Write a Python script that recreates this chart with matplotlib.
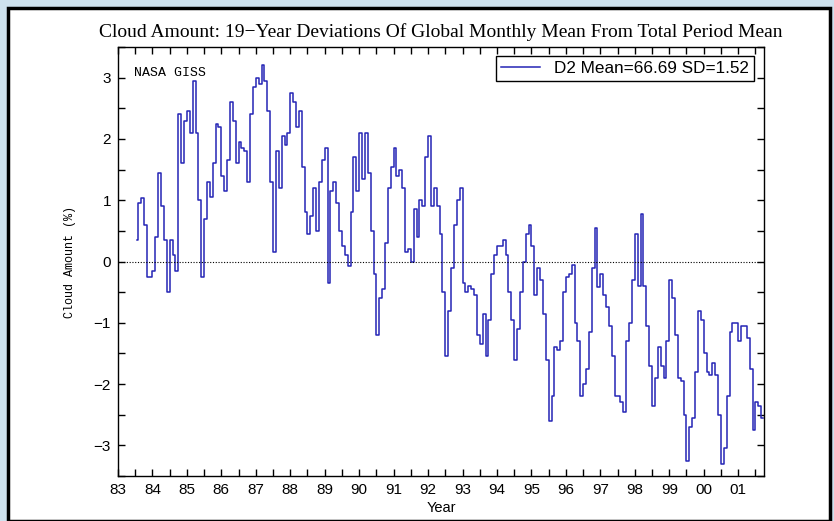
import numpy as np
import matplotlib.pyplot as plt
from matplotlib.patches import Rectangle
from matplotlib.ticker import MultipleLocator

# ISCCP D2 global monthly cloud amount deviations (%), Jul 1983 - Sep 2001
start_year = 83
start_month = 7
dev_1983 = [0.35, 0.95, 1.03, 0.6, -0.25, -0.25]
dev_1984 = [-0.15, 0.4, 1.45, 0.9, 0.35, -0.5, 0.35, 0.1, -0.15, 2.4, 1.6, 2.3]
dev_1985 = [2.45, 2.1, 2.95, 2.1, 1.0, -0.25, 0.7, 1.3, 1.05, 1.6, 2.25, 2.2]
dev_1986 = [1.4, 1.15, 1.65, 2.6, 2.3, 1.6, 1.95, 1.85, 1.8, 1.3, 2.4, 2.85]
dev_1987 = [3.0, 2.9, 3.2, 2.95, 2.45, 1.3, 0.15, 1.8, 1.2, 2.05, 1.9, 2.1]
dev_1988 = [2.75, 2.6, 2.2, 2.45, 1.55, 0.8, 0.45, 0.75, 1.2, 0.5, 1.3, 1.65]
dev_1989 = [1.85, -0.35, 1.15, 1.3, 0.95, 0.5, 0.25, 0.1, -0.07, 0.8, 1.7, 1.15]
dev_1990 = [2.1, 1.35, 2.1, 1.45, 0.5, -0.2, -1.2, -0.6, -0.45, 0.3, 1.2, 1.55]
dev_1991 = [1.85, 1.4, 1.5, 1.2, 0.15, 0.2, 0.0, 0.85, 0.4, 1.0, 0.9, 1.7]
dev_1992 = [2.05, 0.9, 1.2, 0.9, 0.45, -0.5, -1.55, -0.8, -0.1, 0.6, 1.0, 1.2]
dev_1993 = [-0.35, -0.5, -0.4, -0.45, -0.55, -1.2, -1.35, -0.85, -1.55, -0.95, -0.2, 0.1]
dev_1994 = [0.25, 0.25, 0.35, 0.1, -0.5, -0.95, -1.6, -1.1, -0.5, 0.0, 0.45, 0.6]
dev_1995 = [0.25, -0.55, -0.1, -0.3, -0.85, -1.6, -2.6, -2.2, -1.4, -1.45, -1.3, -0.5]
dev_1996 = [-0.25, -0.2, -0.05, -1.0, -1.3, -2.2, -2.0, -1.75, -1.15, -0.1, 0.55, -0.42]
dev_1997 = [-0.2, -0.55, -0.75, -1.05, -1.55, -2.2, -2.2, -2.3, -2.45, -1.3, -1.0, -0.3]
dev_1998 = [0.45, -0.4, 0.78, -0.4, -1.05, -1.7, -2.35, -1.9, -1.4, -1.7, -1.9, -1.3]
dev_1999 = [-0.3, -0.6, -1.2, -1.9, -1.95, -2.5, -3.25, -2.7, -2.55, -1.8, -0.8, -0.95]
dev_2000 = [-1.5, -1.8, -1.85, -1.65, -1.85, -2.5, -3.3, -3.05, -2.2, -1.15, -1.0, -1.0]
dev_2001 = [-1.3, -1.05, -1.05, -1.25, -1.75, -2.75, -2.3, -2.35, -2.55]

year_labels = ['83', '84', '85', '86', '87', '88', '89', '90', '91', '92',
               '93', '94', '95', '96', '97', '98', '99', '00', '01']
legend_label = 'D2 Mean=66.69 SD=1.52'

dev = np.array(dev_1983 + dev_1984 + dev_1985 + dev_1986 + dev_1987 + dev_1988
               + dev_1989 + dev_1990 + dev_1991 + dev_1992 + dev_1993 + dev_1994
               + dev_1995 + dev_1996 + dev_1997 + dev_1998 + dev_1999 + dev_2000
               + dev_2001)
# mid-month positions in years
t = start_year + (start_month - 1 + np.arange(len(dev)) + 0.5) / 12.0

fig = plt.figure(figsize=(8.34, 5.21), dpi=100, facecolor='#cfe2ef')

# white slide panel with black frame, kept behind the axes
panel = Rectangle((8 / 834, 0), 822 / 834, 513 / 521, transform=fig.transFigure,
                  facecolor='white', edgecolor='black', linewidth=2.5, zorder=-10)
fig.patches.append(panel)

ax = fig.add_axes([118 / 834, 45 / 521, 646 / 834, 429 / 521])
ax.set_zorder(5)
ax.plot(t, dev, color='#2525b5', linewidth=1.1, drawstyle='steps-mid',
        label=legend_label)
ax.axhline(0, color='black', linestyle=(0, (1, 1.5)), linewidth=0.8)

ax.set_xlim(start_year, start_year + (start_month - 1 + len(dev)) / 12.0)
ax.set_ylim(-3.5, 3.5)

ax.set_xticks(np.arange(83, 83 + len(year_labels)))
ax.set_xticklabels(year_labels)
ax.xaxis.set_minor_locator(MultipleLocator(0.5))
ax.yaxis.set_major_locator(MultipleLocator(1))
ax.yaxis.set_minor_locator(MultipleLocator(0.5))

ax.tick_params(which='both', direction='in', top=True, right=True,
               length=5, width=1.0, labelsize=11, pad=5)
for lab in ax.get_xticklabels() + ax.get_yticklabels():
    lab.set_family('Liberation Sans')
for s in ax.spines.values():
    s.set_linewidth(1.0)

ax.set_xlabel('Year', family='Liberation Sans', fontsize=10.5, labelpad=3)
ax.set_ylabel('Cloud Amount (%)', family='Liberation Mono', fontsize=8.5,
              labelpad=13)

ax.text(0.025, 0.94, 'NASA GISS', transform=ax.transAxes, family='Liberation Mono',
        fontsize=9.5, va='center', ha='left')

leg = ax.legend(loc='upper right', bbox_to_anchor=(0.9845, 0.979), borderaxespad=0,
                fancybox=False, framealpha=1, edgecolor='black', handlelength=2.3,
                handletextpad=0.8, borderpad=0.3,
                prop={'family': 'Liberation Sans', 'size': 12.3})
leg.get_frame().set_linewidth(1.0)

fig.text(441 / 834, 1 - 32 / 521, 'Cloud Amount: 19\u2212Year Deviations Of Global '
         'Monthly Mean From Total Period Mean', family='Liberation Serif',
         fontsize=14, ha='center', va='center')

fig.savefig('out.png', dpi=100, facecolor=fig.get_facecolor())
